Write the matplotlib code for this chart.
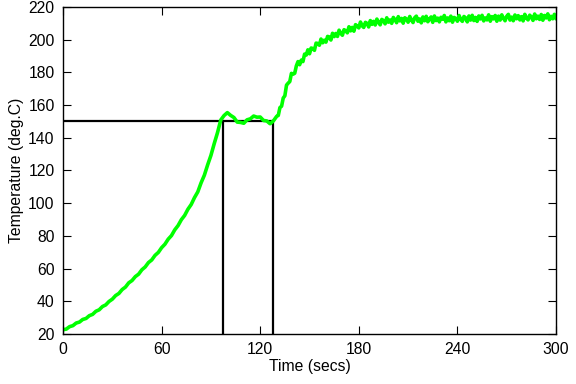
import numpy as np
import matplotlib
matplotlib.use('Agg')
import matplotlib.pyplot as plt

plt.rcParams['font.family'] = ['Liberation Sans', 'DejaVu Sans']

# temperature log
# heat-up part, one reading every 2 s
t_early = list(range(0, 130, 2))
temp_early = [22.6, 23.0, 24.5, 25.1, 26.7, 27.3, 28.9, 29.5, 31.2, 32.0,
              33.9, 34.8, 36.8, 37.8, 39.9, 41.3, 43.5, 44.8, 47.2, 48.7,
              51.3, 52.7, 55.1, 56.6, 59.3, 61.0, 63.7, 65.3, 68.1, 69.9,
              72.8, 74.9, 78.0, 80.2, 83.7, 86.3, 89.9, 92.5, 96.3, 99.2,
              103.4, 106.9, 112.4, 117.1, 123.4, 129.2, 136.4, 143.1, 150.9, 153.6,
              155.4, 153.7, 152.4, 149.6, 149.4, 148.9, 151.0, 151.6, 153.3, 152.6,
              152.7, 150.6, 150.3, 148.6, 150.3]

# second rise and plateau, one reading every 1 s (noisy)
t_late = list(range(130, 301))
temp_late = [153.1, 153.7, 158.5, 159.3, 164.3, 165.7, 172.2, 173.4, 174.4, 179.4,
             178.9, 179.5, 184.0, 186.6, 184.7, 187.5, 186.6, 191.2, 190.6, 193.8,
             191.4, 194.9, 194.6, 193.5, 197.9, 197.7, 196.6, 200.4, 198.1, 199.7,
             198.5, 202.0, 201.7, 199.8, 203.9, 201.9, 203.8, 202.0, 205.8, 203.9,
             202.7, 206.1, 205.5, 204.2, 207.9, 205.4, 207.5, 205.2, 209.2, 208.3,
             207.2, 210.8, 208.5, 207.5, 210.6, 210.0, 207.8, 211.7, 209.4, 211.2,
             209.0, 212.6, 210.6, 209.1, 212.4, 211.7, 209.7, 213.4, 210.7, 212.1,
             210.0, 213.6, 212.3, 210.4, 214.1, 211.5, 213.0, 210.1, 213.4, 212.6,
             210.7, 214.2, 212.0, 210.5, 213.4, 214.4, 211.3, 212.7, 210.3, 213.9,
             211.6, 214.3, 211.0, 212.6, 213.9, 210.6, 214.5, 211.7, 213.2, 210.9,
             213.7, 212.5, 214.8, 210.9, 213.3, 211.6, 214.4, 210.7, 213.6, 213.0,
             211.3, 214.8, 212.4, 211.2, 214.2, 213.3, 210.9, 214.5, 212.0, 214.9,
             211.7, 213.6, 211.2, 214.5, 212.7, 214.9, 211.5, 213.3, 212.1, 215.2,
             211.3, 214.1, 212.7, 214.8, 211.3, 214.4, 212.0, 215.2, 213.1, 211.6,
             214.3, 215.5, 212.0, 213.8, 211.6, 215.1, 212.8, 214.7, 212.1, 214.1,
             211.5, 215.5, 213.3, 212.1, 215.0, 213.8, 211.8, 215.7, 212.8, 214.4,
             212.4, 215.4, 211.9, 214.8, 213.3, 215.8, 212.2, 214.3, 212.8, 215.5,
             213.1]

# marker lines: set point and the two times
setpoint = 150
t_reach = 97.5
t_leave = 127.5

time_s = t_early + t_late
temp_c = temp_early + temp_late

fig = plt.figure(figsize=(5.76, 3.84), dpi=100)
ax = fig.add_axes([0.1094, 0.1302, 0.8559, 0.8516])

ax.plot([0, t_leave], [setpoint, setpoint], color='black', lw=1.6)
ax.plot([t_reach, t_reach], [20, setpoint], color='black', lw=1.6)
ax.plot([t_leave, t_leave], [20, setpoint], color='black', lw=1.6)
ax.plot(time_s, temp_c, color='#00ff00', lw=2.6)

ax.set_xlim(0, 300)
ax.set_ylim(20, 220)
ax.set_xticks(np.arange(0, 301, 60))
ax.set_yticks(np.arange(20, 221, 20))
ax.tick_params(direction='in', length=6, width=0.8, top=True, right=True,
               labelsize=11.3, pad=6)
for s in ax.spines.values():
    s.set_linewidth(1.0)

ax.set_xlabel('Time (secs)', fontsize=11.3, labelpad=1)
ax.set_ylabel('Temperature (deg.C)', fontsize=11.3, labelpad=3)

fig.savefig('out.png', dpi=100)
